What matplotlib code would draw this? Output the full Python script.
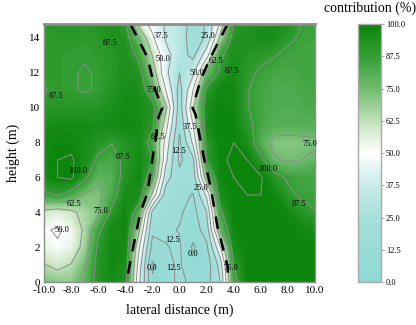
import numpy as np
import matplotlib
matplotlib.use('Agg')
import matplotlib.pyplot as plt
from matplotlib.colors import LinearSegmentedColormap, Normalize
from matplotlib.cm import ScalarMappable

plt.rcParams['font.family'] = ['Liberation Serif', 'DejaVu Serif']

# ---------------------------------------------------------------------------
# Data (contribution in %)
# ---------------------------------------------------------------------------
lateral = np.arange(-10, 11, 1)       # m
height = np.arange(0, 16, 1)          # m

contribution = np.array([
    [74, 70, 70, 78, 92, 97, 92, 40,  2,  8, 15, 10,  8, 25, 82, 100, 100, 100, 100, 100, 100],
    [63, 59, 63, 74, 92, 98, 95, 45, -2, 10, 14,  3,  5, 30, 88, 100, 100, 100, 100, 100, 100],
    [54, 51, 54, 67, 90, 98, 97, 52,  8, 12, 14, -2, 10, 48, 95, 100, 100, 100, 100, 100, 100],
    [51, 49, 52, 65, 85, 97, 98, 65, 15, 14, 12,  6, 18, 75, 98, 100, 100, 100, 100,  98,  96],
    [59, 56, 60, 66, 72, 90, 98, 80, 22, 15, 14,  8, 25, 85, 100, 100, 100, 100, 98,  92,  88],
    [85, 88, 82, 74, 72, 82, 96, 95, 60, 18, 15, 12, 40, 95, 100, 100, 100, 98,  90,  86,  85],
    [97, 100, 102, 90, 78, 80, 92, 98, 80, 30, 16, 18, 70, 98, 100, 101, 101, 92, 86,  84,  84],
    [98, 100, 101, 96, 85, 83, 90, 97, 88, 40, 10, 22, 88, 99, 101, 100, 90,  76,  74,  75,  78],
    [98, 99, 98, 96, 92, 88, 92, 96, 82, 45, 10, 40, 90, 100, 100, 95, 80,  72,  71,  72,  73],
    [96, 97, 97, 97, 96, 97, 98, 97, 90, 55, 15, 50, 95, 100, 100, 90, 84,  80,  80,  80,  80],
    [91, 92, 92, 91, 92, 95, 97, 97, 92, 65, 18, 60, 95, 100, 98,  88, 84,  82,  81,  82,  83],
    [87, 89, 88, 87, 88, 92, 96, 95, 80, 50, 20, 50, 90, 98,  98,  88, 84,  82,  82,  83,  84],
    [89, 89, 88, 87, 88, 91, 95, 92, 70, 40, 25, 35, 75, 90,  97,  90, 86,  84,  83,  84,  85],
    [89, 89, 88, 88, 89, 91, 94, 85, 62, 42, 30, 22, 45, 85,  95,  92, 90,  88,  85,  84,  84],
    [89, 90, 91, 89, 91, 94, 92, 75, 52, 36, 32, 18, 27, 65,  92,  94, 96,  95,  90,  86,  85],
    [90, 91, 91, 90, 92, 95, 88, 55, 45, 36, 32, 20, 26, 50,  88,  92, 95,  96,  94,  88,  86],
])

# dashed boundary lines
left_bx = [-3.63, -2.37, -1.78, -1.26, -1.55, -1.78, -1.9, -2.37, -2.89, -3.26, -3.93]
left_by = [14.8, 12.9, 11.0, 10.0, 9.47, 8.1, 7.57, 5.1, 4.0, 2.6, 0.0]
right_bx = [3.55, 2.3, 1.56, 1.19, 0.96, 1.19, 1.56, 1.78, 2.3, 2.81, 3.55, 3.6]
right_by = [14.8, 12.9, 11.6, 10.6, 10.0, 9.6, 8.1, 7.2, 5.45, 3.15, 0.9, 0.0]

# contour labels as printed in the figure
label_x = [-1.4, 2.1, -1.2, 2.7, 1.3, -1.9, 0.75, -1.6, -0.1, 1.6,
           -0.5, 0.96, -2.0, -0.44, 3.8, -9.1, -5.1, 3.9, 9.6, -7.5,
           -4.2, -7.8, -5.8, -8.7, 6.5, 8.8]
label_y = [14.1, 14.1, 12.8, 12.7, 12.0, 11.0, 8.9, 8.3, 7.5, 5.4,
           2.4, 1.6, 0.8, 0.8, 0.8, 10.7, 13.7, 12.1, 7.9, 6.4,
           7.2, 4.5, 4.1, 3.0, 6.5, 4.5]
label_val = [37.5, 25.0, 50.0, 62.5, 50.0, 75.0, 37.5, 62.5, 12.5, 25.0,
             12.5, 0.0, 0.0, 12.5, 75.0, 87.5, 87.5, 87.5, 75.0, 100.0,
             87.5, 62.5, 75.0, 50.0, 100.0, 87.5]

line_levels = np.arange(0, 100.1, 12.5)

# ---------------------------------------------------------------------------
# Colormap teal -> white -> green
# ---------------------------------------------------------------------------
cmap = LinearSegmentedColormap.from_list('contrib', [
    (0.00, '#8fd8d3'),
    (0.25, '#a6e0dc'),
    (0.40, '#d3efee'),
    (0.50, '#ffffff'),
    (0.60, '#cfe8c8'),
    (0.75, '#72bc70'),
    (0.875, '#349e34'),
    (1.00, '#0c850c'),
])
norm = Normalize(0, 100)

fig = plt.figure(figsize=(4.16, 3.25), dpi=100)
ax = fig.add_axes([0.106, 0.132, 0.651, 0.794])
cax = fig.add_axes([0.861, 0.132, 0.055, 0.794])

X, Y = np.meshgrid(lateral, height)
ax.contourf(X, Y, contribution, levels=np.linspace(-10, 110, 97),
            cmap=cmap, norm=norm)
ax.contour(X, Y, contribution, levels=line_levels,
           colors='#8c8c8c', linewidths=0.7)
for lx, ly, lv in zip(label_x, label_y, label_val):
    ax.text(lx, ly, f'{lv:.1f}', fontsize=6, ha='center', va='center',
            color='black')

ax.plot(left_bx, left_by, color='black', linestyle=(0, (5, 4)), linewidth=1.8)
ax.plot(right_bx, right_by, color='black', linestyle=(0, (5, 4)), linewidth=1.8)

ax.set_xlim(-10, 10)
ax.set_ylim(0, 14.8)
ax.set_xticks(np.arange(-10, 11, 2))
ax.set_xticklabels([f'{v:.1f}' for v in np.arange(-10, 11, 2)])
ax.set_yticks(np.arange(0, 15, 2))
ax.tick_params(labelsize=8, length=0, pad=3)
for sp in ax.spines.values():
    sp.set_color('#8c8c8c')
    sp.set_linewidth(1.0)
ax.spines['top'].set_linewidth(2.0)
ax.set_xlabel('lateral distance (m)', fontsize=10, labelpad=6)
ax.set_ylabel('height (m)', fontsize=10, labelpad=6)

cb = fig.colorbar(ScalarMappable(norm=norm, cmap=cmap), cax=cax,
                  ticks=line_levels, format='%.1f')
cb.ax.tick_params(labelsize=6, length=2, width=0.5, color='#888888', pad=1.5)
cb.outline.set_edgecolor('#aaaaaa')
cb.outline.set_linewidth(1.0)
fig.text(0.89, 0.955, 'contribution (%)', ha='center', va='bottom', fontsize=10)

fig.savefig('out.png', dpi=100)
